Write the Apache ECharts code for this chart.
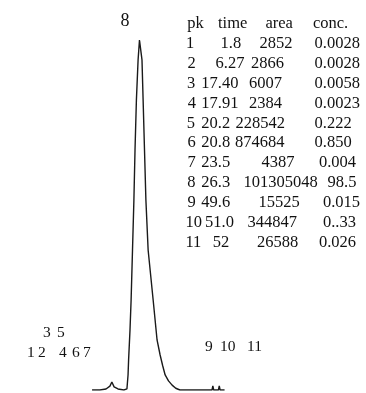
<!DOCTYPE html>
<html>
<head>
<meta charset="utf-8">
<script src="https://cdn.jsdelivr.net/npm/echarts@6/dist/echarts.min.js"></script>
<style>
  html, body { margin: 0; padding: 0; background: #fff; }
  #chart { width: 366px; height: 393px; }
</style>
</head>
<body>
<div id="chart"></div>
<script>
// detector trace: retention time (min) and signal (% of peak 8)
const traceTime = [9.0, 11.8, 14.0, 15.4, 16.1, 16.9, 18.3, 20.4, 21.5, 21.9, 22.1, 22.6, 23.0, 23.5, 24.0, 24.4, 24.9, 25.5, 26.0,
                   26.4, 26.9, 27.3, 27.8, 28.3, 29.1, 30.9, 32.3, 33.4, 34.3, 35.2, 36.4, 37.7, 39.0, 40.5, 45.9, 49.5, 52.0, 52.3, 52.6, 54.3, 54.6, 54.9, 56.5];
const traceSignal = [0, 0, 0.3, 1.1, 2.3, 0.9, 0.3, 0, 0.3, 4.3, 8.6, 17.1, 25.7, 40, 54.3, 68.6, 82.9, 94.3, 100,
                     100, 94.3, 82.9, 68.6, 54.3, 40, 25.7, 14.3, 10, 7.0, 4.3, 2.6, 1.4, 0.5, 0, 0, 0, 0, 1.2, 0, 0, 1.2, 0, 0];

// peak table
const tableHead = ['pk', 'time', 'area', 'conc.'];
const pk    = ['1', '2', '3', '4', '5', '6', '7', '8', '9', '10', '11'];
const times = ['1.8', '6.27', '17.40', '17.91', '20.2', '20.8', '23.5', '26.3', '49.6', '51.0', '52'];
const areas = ['2852', '2866', '6007', '2384', '228542', '874684', '4387', '101305048', '15525', '344847', '26588'];
const concs = ['0.0028', '0.0028', '0.0058', '0.0023', '0.222', '0.850', '0.004', '98.5', '0.015', '0..33', '0.026'];

// peak number labels
const bigPeakLabel = '8';
const lowLabelsTop = ['3', '5'];
const lowLabelsLeft = ['1', '2', '4', '6', '7'];
const lowLabelsRight = ['9', '10', '11'];

// layout (pixels)
const serif = '"Liberation Serif", "DejaVu Serif", serif';
const tableSize = 16.5;
const headX = [187.2, 218, 265.4, 312.9];
const colX = [
  [186, 220.5, 259.5, 314.6],
  [187.5, 215.5, 251, 314.6],
  [187, 201.3, 249, 314.6],
  [187.8, 201.3, 249, 314.6],
  [186.8, 201.3, 235.5, 314.6],
  [187.5, 201.3, 235, 314.6],
  [187.6, 201.3, 261.5, 318.9],
  [187.2, 201.3, 243.5, 327.5],
  [187.5, 201.3, 258.5, 322.9],
  [185.4, 205, 247.5, 322.9],
  [185.4, 212.8, 257, 318.9]
];
const rowY0 = 23.3, rowStep = 19.85;
const lowTopX = [43, 57];
const lowLeftX = [27, 38, 59, 72, 83];
const lowRightX = [205, 220, 247];

const graphics = [];
function txt(s, x, y, size) {
  graphics.push({
    type: 'text', left: x, top: y - size * 0.47,
    style: { text: s, font: size + 'px ' + serif, fill: '#111' }
  });
}
tableHead.forEach((h, i) => txt(h, headX[i], rowY0, tableSize));
pk.forEach((p, r) => {
  const y = rowY0 + rowStep * (r + 1);
  [p, times[r], areas[r], concs[r]].forEach((v, c) => txt(v, colX[r][c], y, tableSize));
});
txt(bigPeakLabel, 120.5, 21, 18);
lowLabelsTop.forEach((s, i) => txt(s, lowTopX[i], 332, 15.5));
lowLabelsLeft.forEach((s, i) => txt(s, lowLeftX[i], 352.5, 15.5));
lowLabelsRight.forEach((s, i) => txt(s, lowRightX[i], 346, 15.5));

const chart = echarts.init(document.getElementById('chart'));
chart.setOption({
  animation: false,
  backgroundColor: '#fff',
  grid: { left: 0, right: 0, top: 40, bottom: 3 },
  xAxis: {
    type: 'value', min: -24, max: 107.2,
    axisLine: { show: false }, axisTick: { show: false },
    axisLabel: { show: false }, splitLine: { show: false }
  },
  yAxis: {
    type: 'value', min: 0, max: 100,
    axisLine: { show: false }, axisTick: { show: false },
    axisLabel: { show: false }, splitLine: { show: false }
  },
  series: [{
    type: 'line',
    data: traceTime.map((t, i) => [t, traceSignal[i]]),
    showSymbol: false,
    lineStyle: { color: '#1a1a1a', width: 1.4 }
  }],
  graphic: graphics
});
</script>
</body>
</html>
